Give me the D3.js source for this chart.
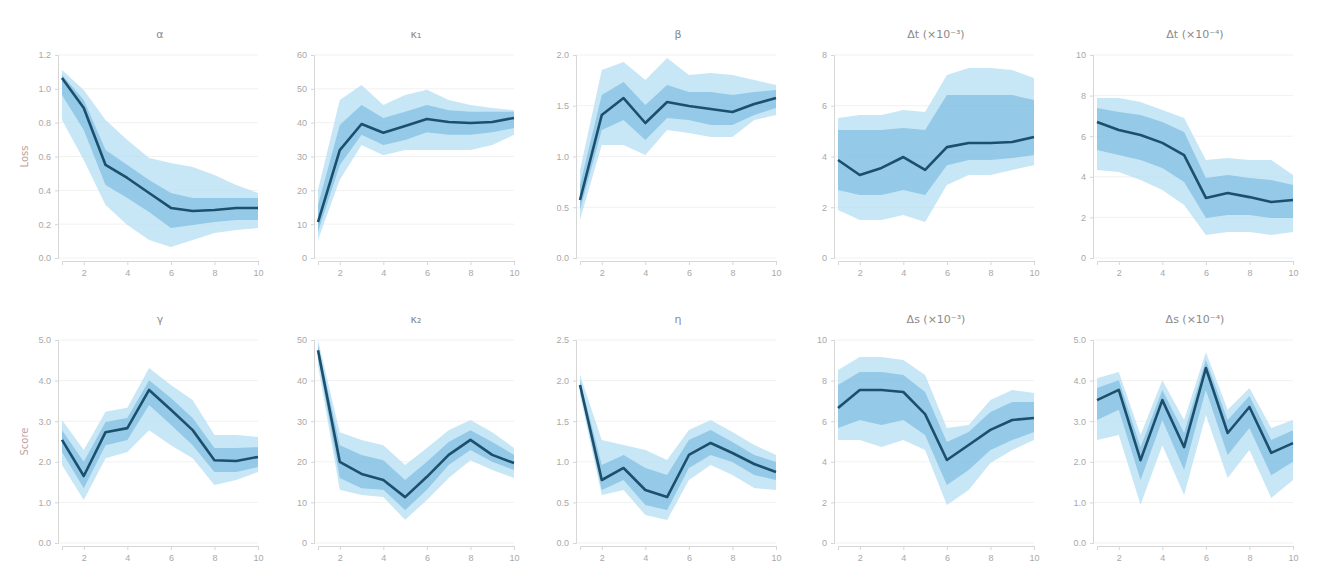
<!DOCTYPE html>
<html>
<head>
<meta charset="utf-8">
<script src="https://cdn.jsdelivr.net/npm/d3@7"></script>
<style>
  html, body { margin: 0; padding: 0; background: #fff; }
  svg { display: block; font-family: "DejaVu Sans", sans-serif; }
</style>
</head>
<body>
<svg id="chart" width="1318" height="582"></svg>
<script>
// Sweep steps shared by every panel
const steps = [1, 2, 3, 4, 5, 6, 7, 8, 9, 10];
const xTicks = [2, 4, 6, 8, 10];

// Row labels
const rowLabels = ["Loss", "Score"];

// Panel titles
const titles = ["α", "κ₁", "β", "Δt (×10⁻³)", "Δt (×10⁻⁴)",
                "γ", "κ₂", "η", "Δs (×10⁻³)", "Δs (×10⁻⁴)"];

// Y tick values per panel
const yTicksAlpha = [0, 0.2, 0.4, 0.6, 0.8, 1.0, 1.2];
const yTicksKappa1 = [0, 10, 20, 30, 40, 50, 60];
const yTicksBeta = [0, 0.5, 1.0, 1.5, 2.0];
const yTicksDt3 = [0, 2, 4, 6, 8];
const yTicksDt4 = [0, 2, 4, 6, 8, 10];
const yTicksGamma = [0, 1, 2, 3, 4, 5];
const yTicksKappa2 = [0, 10, 20, 30, 40, 50];
const yTicksEta = [0, 0.5, 1.0, 1.5, 2.0, 2.5];
const yTicksDs3 = [0, 2, 4, 6, 8, 10];
const yTicksDs4 = [0, 1, 2, 3, 4, 5];

// α
const alphaMean = [1.064, 0.887, 0.550, 0.473, 0.384, 0.296, 0.278, 0.284, 0.296, 0.296];
const alphaHi95 = [1.111, 0.993, 0.816, 0.698, 0.591, 0.562, 0.538, 0.491, 0.432, 0.384];
const alphaLo95 = [0.816, 0.579, 0.313, 0.195, 0.106, 0.065, 0.106, 0.148, 0.166, 0.177];
const alphaHi50 = [1.082, 0.934, 0.638, 0.550, 0.461, 0.384, 0.355, 0.355, 0.355, 0.355];
const alphaLo50 = [0.963, 0.757, 0.431, 0.355, 0.272, 0.177, 0.195, 0.213, 0.225, 0.225];

// κ₁
const kappa1Mean = [10.6, 31.9, 39.6, 37.0, 39.0, 41.1, 40.2, 39.9, 40.2, 41.4];
const kappa1Hi95 = [20.1, 46.7, 51.1, 45.2, 48.2, 49.7, 46.7, 45.2, 44.3, 43.7];
const kappa1Lo95 = [5.3, 23.1, 33.4, 30.4, 31.9, 31.9, 31.9, 31.9, 33.4, 36.4];
const kappa1Hi50 = [15.7, 39.3, 45.2, 41.4, 43.2, 45.2, 43.7, 43.2, 43.2, 43.2];
const kappa1Lo50 = [7.7, 27.5, 36.4, 33.4, 34.9, 37.2, 36.4, 36.4, 37.2, 38.4];

// β
const betaMean = [0.571, 1.409, 1.576, 1.330, 1.537, 1.497, 1.468, 1.438, 1.517, 1.576];
const betaHi95 = [0.867, 1.852, 1.931, 1.754, 1.970, 1.803, 1.823, 1.803, 1.754, 1.704];
const betaLo95 = [0.374, 1.113, 1.113, 1.015, 1.261, 1.232, 1.192, 1.192, 1.360, 1.409];
const betaHi50 = [0.719, 1.606, 1.734, 1.507, 1.704, 1.635, 1.635, 1.606, 1.635, 1.655];
const betaLo50 = [0.473, 1.261, 1.360, 1.163, 1.379, 1.360, 1.310, 1.310, 1.409, 1.478];

// Δt (×10⁻³)
const dt3Mean = [3.86, 3.27, 3.55, 3.98, 3.47, 4.37, 4.53, 4.53, 4.57, 4.77];
const dt3Hi95 = [5.52, 5.64, 5.64, 5.83, 5.75, 7.21, 7.49, 7.49, 7.41, 7.09];
const dt3Lo95 = [1.89, 1.50, 1.50, 1.69, 1.42, 2.88, 3.27, 3.27, 3.47, 3.66];
const dt3Hi50 = [5.04, 5.04, 5.04, 5.12, 5.04, 6.42, 6.42, 6.42, 6.42, 6.23];
const dt3Lo50 = [2.68, 2.48, 2.48, 2.68, 2.48, 3.66, 3.86, 3.86, 3.94, 4.06];

// Δt (×10⁻⁴)
const dt4Mean = [6.70, 6.31, 6.06, 5.67, 5.07, 2.96, 3.20, 3.00, 2.76, 2.86];
const dt4Hi95 = [7.88, 7.88, 7.68, 7.29, 6.90, 4.83, 4.93, 4.83, 4.83, 4.09];
const dt4Lo95 = [4.33, 4.24, 3.84, 3.35, 2.61, 1.13, 1.28, 1.28, 1.13, 1.28];
const dt4Hi50 = [7.39, 7.19, 7.04, 6.70, 6.21, 3.94, 4.09, 3.94, 3.84, 3.60];
const dt4Lo50 = [5.32, 5.07, 4.83, 4.43, 3.74, 1.97, 2.12, 2.12, 1.97, 1.97];

// γ
const gammaMean = [2.54, 1.65, 2.73, 2.83, 3.77, 3.28, 2.78, 2.04, 2.02, 2.12];
const gammaHi95 = [3.03, 2.29, 3.23, 3.33, 4.31, 3.89, 3.52, 2.66, 2.66, 2.61];
const gammaLo95 = [1.92, 1.06, 2.09, 2.24, 2.78, 2.41, 2.09, 1.43, 1.55, 1.75];
const gammaHi50 = [2.78, 2.00, 2.98, 3.08, 4.01, 3.57, 3.08, 2.34, 2.34, 2.36];
const gammaLo50 = [2.24, 1.35, 2.41, 2.54, 3.40, 2.91, 2.41, 1.75, 1.75, 1.87];

// κ₂
const kappa2Mean = [47.5, 20.0, 17.0, 15.5, 11.3, 16.3, 21.7, 25.4, 21.7, 19.7];
const kappa2Hi95 = [50.0, 27.3, 25.4, 24.1, 19.2, 23.4, 27.8, 30.3, 27.3, 23.4];
const kappa2Lo95 = [43.8, 13.1, 11.8, 11.3, 5.7, 10.6, 16.0, 20.4, 18.0, 16.0];
const kappa2Hi50 = [48.8, 24.1, 21.7, 20.4, 15.5, 20.0, 24.9, 27.8, 24.9, 21.7];
const kappa2Lo50 = [45.6, 16.0, 13.5, 13.1, 8.1, 13.1, 19.2, 22.9, 20.0, 18.0];

// η
const etaMean = [1.946, 0.776, 0.924, 0.653, 0.566, 1.084, 1.232, 1.108, 0.973, 0.874];
const etaHi95 = [2.069, 1.268, 1.207, 1.145, 1.022, 1.392, 1.515, 1.367, 1.207, 1.084];
const etaLo95 = [1.823, 0.591, 0.653, 0.345, 0.283, 0.776, 0.961, 0.837, 0.677, 0.653];
const etaHi50 = [2.007, 0.961, 1.084, 0.924, 0.837, 1.268, 1.392, 1.244, 1.084, 0.998];
const etaLo50 = [1.884, 0.653, 0.776, 0.468, 0.406, 0.924, 1.084, 0.998, 0.837, 0.776];

// Δs (×10⁻³)
const ds3Mean = [6.65, 7.54, 7.54, 7.44, 6.35, 4.09, 4.83, 5.57, 6.06, 6.16];
const ds3Hi95 = [8.52, 9.16, 9.16, 9.01, 8.28, 5.67, 5.81, 7.04, 7.54, 7.39];
const ds3Lo95 = [5.07, 5.07, 4.73, 5.07, 4.58, 1.87, 2.61, 3.94, 4.58, 5.07];
const ds3Hi50 = [7.78, 8.42, 8.42, 8.28, 7.44, 4.98, 5.47, 6.45, 6.95, 6.95];
const ds3Lo50 = [5.67, 6.06, 5.81, 6.06, 5.32, 2.86, 3.60, 4.58, 5.07, 5.47];

// Δs (×10⁻⁴)
const ds4Mean = [3.52, 3.77, 2.04, 3.52, 2.36, 4.31, 2.71, 3.35, 2.22, 2.46];
const ds4Hi95 = [4.06, 4.21, 2.66, 4.01, 3.03, 4.70, 3.28, 3.82, 2.83, 3.03];
const ds4Lo95 = [2.54, 2.66, 0.94, 2.41, 1.18, 3.15, 1.60, 2.29, 1.11, 1.55];
const ds4Hi50 = [3.82, 4.01, 2.36, 3.77, 2.71, 4.51, 3.03, 3.62, 2.54, 2.78];
const ds4Lo50 = [3.03, 3.28, 1.55, 3.03, 1.80, 3.77, 2.17, 2.83, 1.67, 2.00];

const panels = [
  { title: titles[0], ticks: yTicksAlpha,  mean: alphaMean,  hi95: alphaHi95,  lo95: alphaLo95,  hi50: alphaHi50,  lo50: alphaLo50 },
  { title: titles[1], ticks: yTicksKappa1, mean: kappa1Mean, hi95: kappa1Hi95, lo95: kappa1Lo95, hi50: kappa1Hi50, lo50: kappa1Lo50 },
  { title: titles[2], ticks: yTicksBeta,   mean: betaMean,   hi95: betaHi95,   lo95: betaLo95,   hi50: betaHi50,   lo50: betaLo50 },
  { title: titles[3], ticks: yTicksDt3,    mean: dt3Mean,    hi95: dt3Hi95,    lo95: dt3Lo95,    hi50: dt3Hi50,    lo50: dt3Lo50 },
  { title: titles[4], ticks: yTicksDt4,    mean: dt4Mean,    hi95: dt4Hi95,    lo95: dt4Lo95,    hi50: dt4Hi50,    lo50: dt4Lo50 },
  { title: titles[5], ticks: yTicksGamma,  mean: gammaMean,  hi95: gammaHi95,  lo95: gammaLo95,  hi50: gammaHi50,  lo50: gammaLo50 },
  { title: titles[6], ticks: yTicksKappa2, mean: kappa2Mean, hi95: kappa2Hi95, lo95: kappa2Lo95, hi50: kappa2Hi50, lo50: kappa2Lo50 },
  { title: titles[7], ticks: yTicksEta,    mean: etaMean,    hi95: etaHi95,    lo95: etaLo95,    hi50: etaHi50,    lo50: etaLo50 },
  { title: titles[8], ticks: yTicksDs3,    mean: ds3Mean,    hi95: ds3Hi95,    lo95: ds3Lo95,    hi50: ds3Hi50,    lo50: ds3Lo50 },
  { title: titles[9], ticks: yTicksDs4,    mean: ds4Mean,    hi95: ds4Hi95,    lo95: ds4Lo95,    hi50: ds4Hi50,    lo50: ds4Lo50 }
];

// Layout
const colLeft = [62, 318, 580, 838, 1097];
const plotW = 196;
const rowTop = [55, 340];
const plotH = 203;

const svg = d3.select("#chart");

panels.forEach((p, i) => {
  const col = i % 5, row = Math.floor(i / 5);
  const x0 = colLeft[col], y0 = rowTop[row];
  const x = d3.scaleLinear().domain([steps[0], steps[steps.length - 1]]).range([x0, x0 + plotW]);
  const y = d3.scaleLinear().domain([p.ticks[0], p.ticks[p.ticks.length - 1]]).range([y0 + plotH, y0]);

  const g = svg.append("g");

  // horizontal grid
  g.append("g")
    .selectAll("line").data(p.ticks).join("line")
    .attr("x1", x0 - 4).attr("x2", x0 + plotW)
    .attr("y1", d => y(d)).attr("y2", d => y(d))
    .attr("stroke", "#f1f1f1").attr("stroke-width", 1);

  // bands: outer and inner spread around the mean
  const band = (lo, hi) => d3.area()
    .x((d, k) => x(steps[k]))
    .y0((d, k) => y(lo[k]))
    .y1((d, k) => y(hi[k]));
  g.append("path").datum(steps)
    .attr("d", band(p.lo95, p.hi95))
    .attr("fill", "#b4def3").attr("fill-opacity", 0.75);
  g.append("path").datum(steps)
    .attr("d", band(p.lo50, p.hi50))
    .attr("fill", "#72b6de").attr("fill-opacity", 0.6);

  // mean line
  g.append("path").datum(p.mean)
    .attr("d", d3.line().x((d, k) => x(steps[k])).y(d => y(d)))
    .attr("fill", "none").attr("stroke", "#1c4f6c")
    .attr("stroke-width", 2.6).attr("stroke-linejoin", "round");

  // axes
  const xAxis = g.append("g")
    .attr("transform", `translate(0,${y0 + plotH + 3})`)
    .call(d3.axisBottom(x).tickValues(xTicks).tickSize(4).tickPadding(5));
  const yAxis = g.append("g")
    .attr("transform", `translate(${x0 - 4},0)`)
    .call(d3.axisLeft(y).tickValues(p.ticks).tickSize(3).tickPadding(4));
  [xAxis, yAxis].forEach(a => {
    a.select(".domain").attr("stroke", "#d6d6d6");
    a.selectAll(".tick line").attr("stroke", "#d6d6d6");
    a.selectAll(".tick text").attr("fill", "#a8a8a8").attr("font-size", 9);
  });

  // title
  svg.append("text")
    .attr("x", x0 + plotW / 2).attr("y", y0 - 17)
    .attr("text-anchor", "middle")
    .attr("font-size", 11).attr("fill", "#8a8a8a")
    .text(p.title);
});

// row labels
rowLabels.forEach((t, r) => {
  svg.append("text")
    .attr("transform", `translate(28,${rowTop[r] + plotH / 2}) rotate(-90)`)
    .attr("text-anchor", "middle")
    .attr("font-size", 10).attr("fill", "#bfa0a0")
    .text(t);
});
</script>
</body>
</html>
